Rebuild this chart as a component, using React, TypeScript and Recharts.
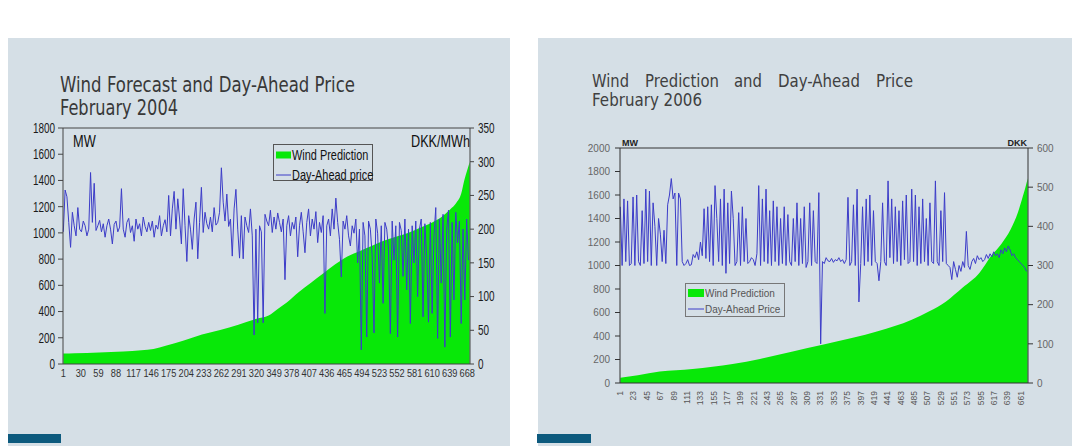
import React from "react";
import { Area, ComposedChart, Legend, Line, ReferenceLine, XAxis, YAxis } from "recharts";

const GREEN = "#08e808";
const BLUE = "#3c3cc8";
const PANEL = "#d5dfe6";
const SANS = "'Liberation Sans', Arial, sans-serif";

// February 2004 — wind forecast sorted low to high (MW), sampled at these hours
const WIND_04_HOURS = [1, 20, 60, 100, 130, 150, 170, 200, 230, 260, 290, 320, 340, 355, 370, 390, 410, 430, 450, 470, 490, 510, 530, 550, 570, 590, 610, 625, 640, 650, 658, 663, 668, 672];
const WIND_04_MW = [80, 82, 88, 96, 105, 115, 140, 180, 225, 260, 300, 345, 370, 420, 470, 550, 620, 690, 760, 820, 860, 900, 940, 970, 1000, 1040, 1080, 1120, 1180, 1230, 1300, 1400, 1480, 1540];

// day-ahead price (DKK/MWh) in the same hour order, one value every 3 hours
const PRICE_04 = [
  196, 258, 248, 210, 173, 225, 205, 190,
  232, 200, 196, 212, 205, 190, 200, 284,
  210, 268, 198, 205, 213, 196, 208, 188,
  205, 215, 200, 178, 207, 212, 196, 203,
  260, 200, 188, 210, 216, 195, 205, 182,
  215, 200, 208, 190, 218, 204, 196, 210,
  198, 212, 188, 206, 200, 220, 190, 205,
  214, 196, 250, 190, 230, 256, 200, 245,
  215, 178, 260, 205, 152, 220, 200, 170,
  215, 240, 156, 210, 262, 195, 225, 208,
  200, 218, 196, 232, 206, 210, 225, 291,
  240, 212, 252, 204, 215, 160, 230, 259,
  200, 157, 220, 156, 218, 205, 195, 230,
  190, 43, 200, 61, 205, 196, 61, 222,
  212, 205, 228, 195, 218, 200, 224, 210,
  196, 215, 125, 205, 220, 190, 210, 200,
  218, 159, 205, 225, 196, 165, 210, 230,
  190, 215, 200, 226, 180, 210, 195, 220,
  75, 205, 215, 190, 230, 200, 246, 210,
  185, 129, 212, 200, 220, 190, 175, 205,
  194, 215, 150, 200, 21, 210, 190, 40,
  212, 200, 160, 46, 215, 194, 120, 205,
  90, 210, 200, 170, 45, 212, 154, 205,
  40, 210, 198, 130, 215, 110, 200, 60,
  205, 150, 212, 100, 200, 215, 70, 208,
  160, 62, 210, 75, 190, 232, 38, 215,
  120, 222, 25, 200, 228, 40, 210, 95,
  225, 180, 212, 60, 200, 95, 215, 154,
];

// February 2006
const WIND_06_HOURS = [1, 30, 66, 120, 186, 231, 285, 334, 384, 425, 481, 510, 537, 565, 593, 611, 628, 644, 656, 664, 668, 672];
const WIND_06_MW = [45, 65, 97, 120, 162, 205, 268, 325, 385, 440, 538, 610, 692, 812, 940, 1077, 1179, 1308, 1453, 1590, 1660, 1740];

const PRICE_06 = [
  450, 300, 470, 310, 465, 300, 305, 475,
  300, 480, 310, 300, 440, 305, 495, 310,
  490, 300, 460, 400, 300, 420, 380, 310,
  390, 305, 455, 480, 522, 470, 485, 300,
  485, 470, 310, 300, 305, 315, 300, 302,
  328, 320, 335, 315, 360, 325, 445, 318,
  450, 310, 455, 300, 504, 420, 310, 470,
  300, 495, 280, 460, 305, 490, 420, 300,
  310, 435, 300, 450, 310, 420, 305, 310,
  320, 315, 300, 330, 504, 300, 470, 310,
  495, 305, 440, 300, 465, 310, 450, 300,
  420, 305, 450, 300, 430, 310, 300, 420,
  310, 460, 300, 420, 305, 450, 295, 310,
  460, 300, 440, 310, 305, 486, 100, 310,
  305, 320, 312, 310, 318, 308, 315, 312,
  320, 310, 315, 305, 315, 474, 300, 310,
  455, 300, 495, 207, 305, 450, 300, 470,
  310, 480, 300, 440, 310, 305, 261, 310,
  460, 310, 300, 516, 320, 470, 305, 450,
  310, 440, 300, 465, 315, 480, 305, 310,
  495, 310, 480, 300, 450, 305, 470, 310,
  420, 300, 460, 310, 305, 516, 310, 300,
  440, 310, 486, 305, 300, 295, 264, 310,
  290, 270, 300, 285, 310, 295, 387, 300,
  290, 310, 318, 305, 325, 315, 320, 310,
  315, 328, 318, 330, 322, 335, 325, 330,
  320, 340, 330, 345, 335, 350, 340, 325,
  330, 320, 315, 310, 305, 300, 295, 285,
];

const PRICE_STEP_HOURS = 3;

const X_TICKS_04 = [1, 30, 59, 88, 117, 146, 175, 204, 233, 262, 291, 320, 349, 378, 407, 436, 465, 494, 523, 552, 581, 610, 639, 668];
const X_TICKS_06 = [1, 23, 45, 67, 89, 111, 133, 155, 177, 199, 221, 243, 265, 287, 309, 331, 353, 375, 397, 419, 441, 463, 485, 507, 529, 551, 573, 595, 617, 639, 661];
const MW_TICKS_04 = [0, 200, 400, 600, 800, 1000, 1200, 1400, 1600, 1800];
const DKK_TICKS_04 = [0, 50, 100, 150, 200, 250, 300, 350];
const MW_TICKS_06 = [0, 200, 400, 600, 800, 1000, 1200, 1400, 1600, 1800, 2000];
const DKK_TICKS_06 = [0, 100, 200, 300, 400, 500, 600];

const toWind = (hours: number[], mw: number[]) => hours.map((h, i) => ({ h, mw: mw[i] }));
const toPrice = (p: number[]) => p.map((v, i) => ({ h: 1 + i * PRICE_STEP_HOURS, price: v }));

// tick label squeezed horizontally, like the old slide fonts
const NarrowTick = (props: any) => {
  const { x, y, payload, anchor, size, fill, sx, dy } = props;
  return (
    <g transform={`translate(${x},${y})`}>
      <text transform={`scale(${sx},1)`} textAnchor={anchor} dy={dy} fontSize={size} fill={fill} fontFamily={SANS}>
        {payload.value}
      </text>
    </g>
  );
};

const UpTick = (props: any) => {
  const { x, y, payload } = props;
  return (
    <text transform={`translate(${x},${y}) rotate(-90)`} textAnchor="end" dy="0.33em" fontSize={8.5} fill="#555" fontFamily={SANS}>
      {payload.value}
    </text>
  );
};

type LegendCfg = {
  w: number; h: number; swX: number; swW: number; swH: number; textX: number;
  rows: number[]; size: number; sx: number; fill: string; border: string;
};

const makeLegend = (cfg: LegendCfg) => (props: any) => {
  const items = [...(props.payload || [])].sort((a: any, b: any) => (a.type === "rect" ? -1 : 1) - (b.type === "rect" ? -1 : 1));
  return (
    <svg width={cfg.w + 12} height={cfg.h} style={{ display: "block", overflow: "visible" }}>
      <rect x={0.5} y={0.5} width={cfg.w - 1} height={cfg.h - 1} fill="none" stroke={cfg.border} />
      {items.map((it: any, i: number) => {
        const cy = cfg.rows[i];
        return (
          <g key={it.value}>
            {it.type === "rect" ? (
              <rect x={cfg.swX} y={cy - cfg.swH / 2} width={cfg.swW} height={cfg.swH} fill={GREEN} />
            ) : (
              <line x1={cfg.swX} x2={cfg.swX + cfg.swW} y1={cy} y2={cy} stroke={BLUE} strokeWidth={1} />
            )}
            <text transform={`translate(${cfg.textX},${cy}) scale(${cfg.sx},1)`} dy="0.35em" fontSize={cfg.size} fill={cfg.fill} fontFamily={SANS}>
              {it.value}
            </text>
          </g>
        );
      })}
    </svg>
  );
};

const legend04 = makeLegend({ w: 100, h: 37, swX: 3, swW: 15, swH: 7, textX: 19, rows: [11, 31], size: 14, sx: 0.78, fill: "#111", border: "#555" });
const legend06 = makeLegend({ w: 100, h: 34, swX: 3, swW: 16, swH: 8, textX: 20, rows: [10, 26], size: 10.5, sx: 0.95, fill: "#555", border: "#777" });

const Chart2004 = () => (
  <ComposedChart width={510} height={300} margin={{ top: 28, right: 0, bottom: 6, left: 0 }}>
    <XAxis
      xAxisId="h" type="number" dataKey="h" domain={[0.5, 672.5]} ticks={X_TICKS_04} interval={0}
      height={30} tickLine={false} tickSize={4} tickMargin={2} axisLine={{ stroke: "#444" }}
      tick={<NarrowTick anchor="middle" size={10.5} fill="#333" sx={0.88} dy="0.71em" />}
    />
    <YAxis
      yAxisId="mw" orientation="left" width={63} domain={[0, 1800]} ticks={MW_TICKS_04} interval={0}
      tickSize={5} tickMargin={3} axisLine={{ stroke: "#444" }} tickLine={{ stroke: "#444" }}
      tick={<NarrowTick anchor="end" size={14} fill="#1a1a1a" sx={0.71} dy="0.35em" />}
    />
    <YAxis
      yAxisId="dkk" orientation="right" width={40} domain={[0, 350]} ticks={DKK_TICKS_04} interval={0}
      tickSize={4} tickMargin={4} axisLine={{ stroke: "#444" }} tickLine={{ stroke: "#444" }}
      tick={<NarrowTick anchor="start" size={14} fill="#1a1a1a" sx={0.71} dy="0.35em" />}
    />
    <ReferenceLine xAxisId="h" yAxisId="mw" y={1800} stroke="#444" />
    <Area
      xAxisId="h" yAxisId="mw" data={toWind(WIND_04_HOURS, WIND_04_MW)} dataKey="mw" name="Wind Prediction"
      type="monotone" stroke="none" fill={GREEN} fillOpacity={1} legendType="rect" isAnimationActive={false}
    />
    <Line
      xAxisId="h" yAxisId="dkk" data={toPrice(PRICE_04)} dataKey="price" name="Day-Ahead price"
      type="linear" stroke={BLUE} strokeWidth={1} dot={false} legendType="line" isAnimationActive={false}
    />
    <Legend layout="vertical" align="center" verticalAlign="middle" content={legend04}
      wrapperStyle={{ left: 273, top: 44, width: 112, height: 37 }} />
  </ComposedChart>
);

const Chart2006 = () => (
  <ComposedChart width={536} height={326} margin={{ top: 28, right: 4, bottom: 23, left: 44 }}>
    <XAxis
      xAxisId="h" type="number" dataKey="h" domain={[0.5, 672.5]} ticks={X_TICKS_06} interval={0}
      height={40} tickLine={false} tickSize={4} tickMargin={4} axisLine={{ stroke: "#333" }}
      tick={<UpTick />}
    />
    <YAxis
      yAxisId="mw" orientation="left" width={40} domain={[0, 2000]} ticks={MW_TICKS_06} interval={0}
      tickSize={5} tickMargin={5} axisLine={{ stroke: "#333" }} tickLine={{ stroke: "#333" }}
      tick={<NarrowTick anchor="end" size={10.5} fill="#666" sx={0.95} dy="0.35em" />}
    />
    <YAxis
      yAxisId="dkk" orientation="right" width={40} domain={[0, 600]} ticks={DKK_TICKS_06} interval={0}
      tickSize={5} tickMargin={4} axisLine={{ stroke: "#333" }} tickLine={{ stroke: "#333" }}
      tick={<NarrowTick anchor="start" size={10.5} fill="#666" sx={0.95} dy="0.35em" />}
    />
    <ReferenceLine xAxisId="h" yAxisId="mw" y={2000} stroke="#333" />
    <Area
      xAxisId="h" yAxisId="mw" data={toWind(WIND_06_HOURS, WIND_06_MW)} dataKey="mw" name="Wind Prediction"
      type="monotone" stroke="none" fill={GREEN} fillOpacity={1} legendType="rect" isAnimationActive={false}
    />
    <Line
      xAxisId="h" yAxisId="dkk" data={toPrice(PRICE_06)} dataKey="price" name="Day-Ahead Price"
      type="linear" stroke={BLUE} strokeWidth={1} dot={false} legendType="line" isAnimationActive={false}
    />
    <Legend layout="vertical" align="center" verticalAlign="middle" content={legend06}
      wrapperStyle={{ left: 149, top: 163, width: 112, height: 34 }} />
  </ComposedChart>
);

const TITLE_FONT = "'DejaVu Sans', Verdana, sans-serif";

export default function App() {
  return (
    <div style={{ position: "absolute", left: 0, top: 0, width: 1072, height: 446, background: "#fff", overflow: "hidden" }}>
      <svg width={1072} height={446} style={{ position: "absolute", left: 0, top: 0 }}>
        <rect x={8} y={38} width={502} height={408} fill={PANEL} />
        <rect x={538} y={38} width={534} height={408} fill={PANEL} />
        <rect x={8} y={434} width={53} height={9} fill="#0d5a7e" />
        <rect x={537} y={434} width={54} height={9} fill="#0d5a7e" />

        <g fontFamily={TITLE_FONT} fill="#383838" fontSize={21}>
          <text x={60} y={92} textLength={295} lengthAdjust="spacingAndGlyphs">Wind Forecast and Day-Ahead Price</text>
          <text x={60} y={115} textLength={118} lengthAdjust="spacingAndGlyphs">February 2004</text>
        </g>
        <g fontFamily={SANS} fill="#111" fontSize={16}>
          <text transform="translate(73,147) scale(0.8,1)">MW</text>
          <text transform="translate(470,147) scale(0.79,1)" textAnchor="end">DKK/MWh</text>
        </g>

        <g fontFamily={TITLE_FONT} fill="#404040" fontSize={17}>
          <text x={592} y={87} textLength={37} lengthAdjust="spacingAndGlyphs">Wind</text>
          <text x={645} y={87} textLength={74} lengthAdjust="spacingAndGlyphs">Prediction</text>
          <text x={734} y={87} textLength={28} lengthAdjust="spacingAndGlyphs">and</text>
          <text x={778} y={87} textLength={82} lengthAdjust="spacingAndGlyphs">Day-Ahead</text>
          <text x={876} y={87} textLength={37} lengthAdjust="spacingAndGlyphs">Price</text>
          <text x={592} y={106} textLength={110} lengthAdjust="spacingAndGlyphs">February 2006</text>
        </g>
        <g fontFamily={SANS} fill="#222" fontSize={9} fontWeight="bold">
          <text x={622} y={146}>MW</text>
          <text x={1027} y={146} textAnchor="end">DKK</text>
        </g>
      </svg>
      <div style={{ position: "absolute", left: 0, top: 100 }}>
        <Chart2004 />
      </div>
      <div style={{ position: "absolute", left: 536, top: 120 }}>
        <Chart2006 />
      </div>
    </div>
  );
}
